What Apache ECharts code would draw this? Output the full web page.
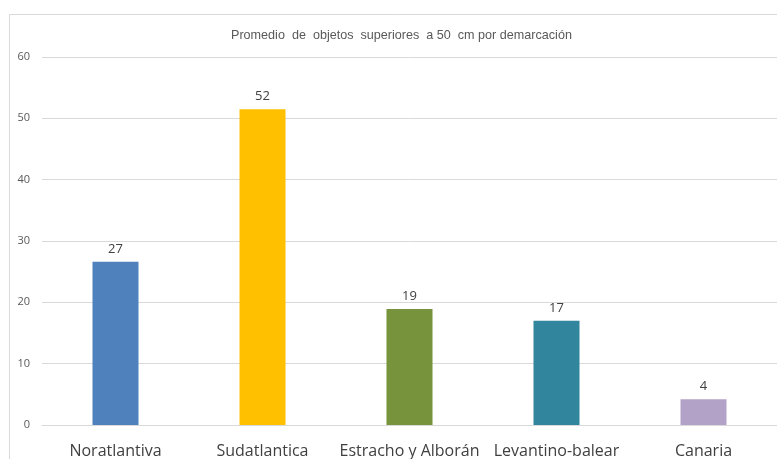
<!DOCTYPE html>
<html>
<head>
<meta charset="utf-8">
<script src="https://cdn.jsdelivr.net/npm/echarts@6/dist/echarts.min.js"></script>
<style>
  html, body { margin: 0; padding: 0; background: #fff; }
  #chart { width: 777px; height: 459px; }
</style>
</head>
<body>
<div id="chart"></div>
<script>
// datos
const categories = ['Noratlantiva', 'Sudatlantica', 'Estracho y Alborán', 'Levantino-balear', 'Canaria']
const values = [26.6, 51.5, 18.9, 17.0, 4.2]
const colors = ['#4F81BD', '#FFC000', '#77933C', '#31859C', '#B3A2C7']
const yTicks = [0, 60, 10]   // min, max, interval

const chart = echarts.init(document.getElementById('chart'))

chart.setOption({
  animation: false,
  textStyle: { fontFamily: 'Open Sans' },
  title: {
    text: 'Promedio  de  objetos  superiores  a 50  cm por demarcación',
    left: 226,
    top: 24,
    textStyle: {
      color: '#595959',
      fontSize: 12.6,
      fontWeight: 'normal',
      fontFamily: 'Liberation Sans'
    }
  },
  graphic: [
    {
      type: 'rect',
      shape: { x: 9.5, y: 14.5, width: 800, height: 500 },
      style: { fill: 'none', stroke: '#d9d9d9', lineWidth: 1 },
      silent: true
    }
  ],
  grid: {
    left: 42,
    right: 0,
    top: 57,
    bottom: 34
  },
  xAxis: {
    type: 'category',
    data: categories,
    axisLine: { lineStyle: { color: '#d9d9d9' } },
    axisTick: { show: false },
    axisLabel: {
      color: '#404040',
      fontSize: 16,
      margin: 18,
      interval: 0
    }
  },
  yAxis: {
    type: 'value',
    min: yTicks[0],
    max: yTicks[1],
    interval: yTicks[2],
    axisLine: { show: false },
    axisTick: { show: false },
    splitLine: { lineStyle: { color: '#d9d9d9' } },
    axisLabel: {
      color: '#595959',
      fontSize: 11,
      margin: 12
    }
  },
  series: [
    {
      type: 'bar',
      barWidth: 46,
      data: values.map((v, i) => ({
        value: v,
        itemStyle: { color: colors[i] }
      })),
      label: {
        show: true,
        position: 'top',
        distance: 6,
        color: '#404040',
        fontSize: 13,
        formatter: (p) => Math.round(p.value)
      }
    }
  ]
})
</script>
</body>
</html>
